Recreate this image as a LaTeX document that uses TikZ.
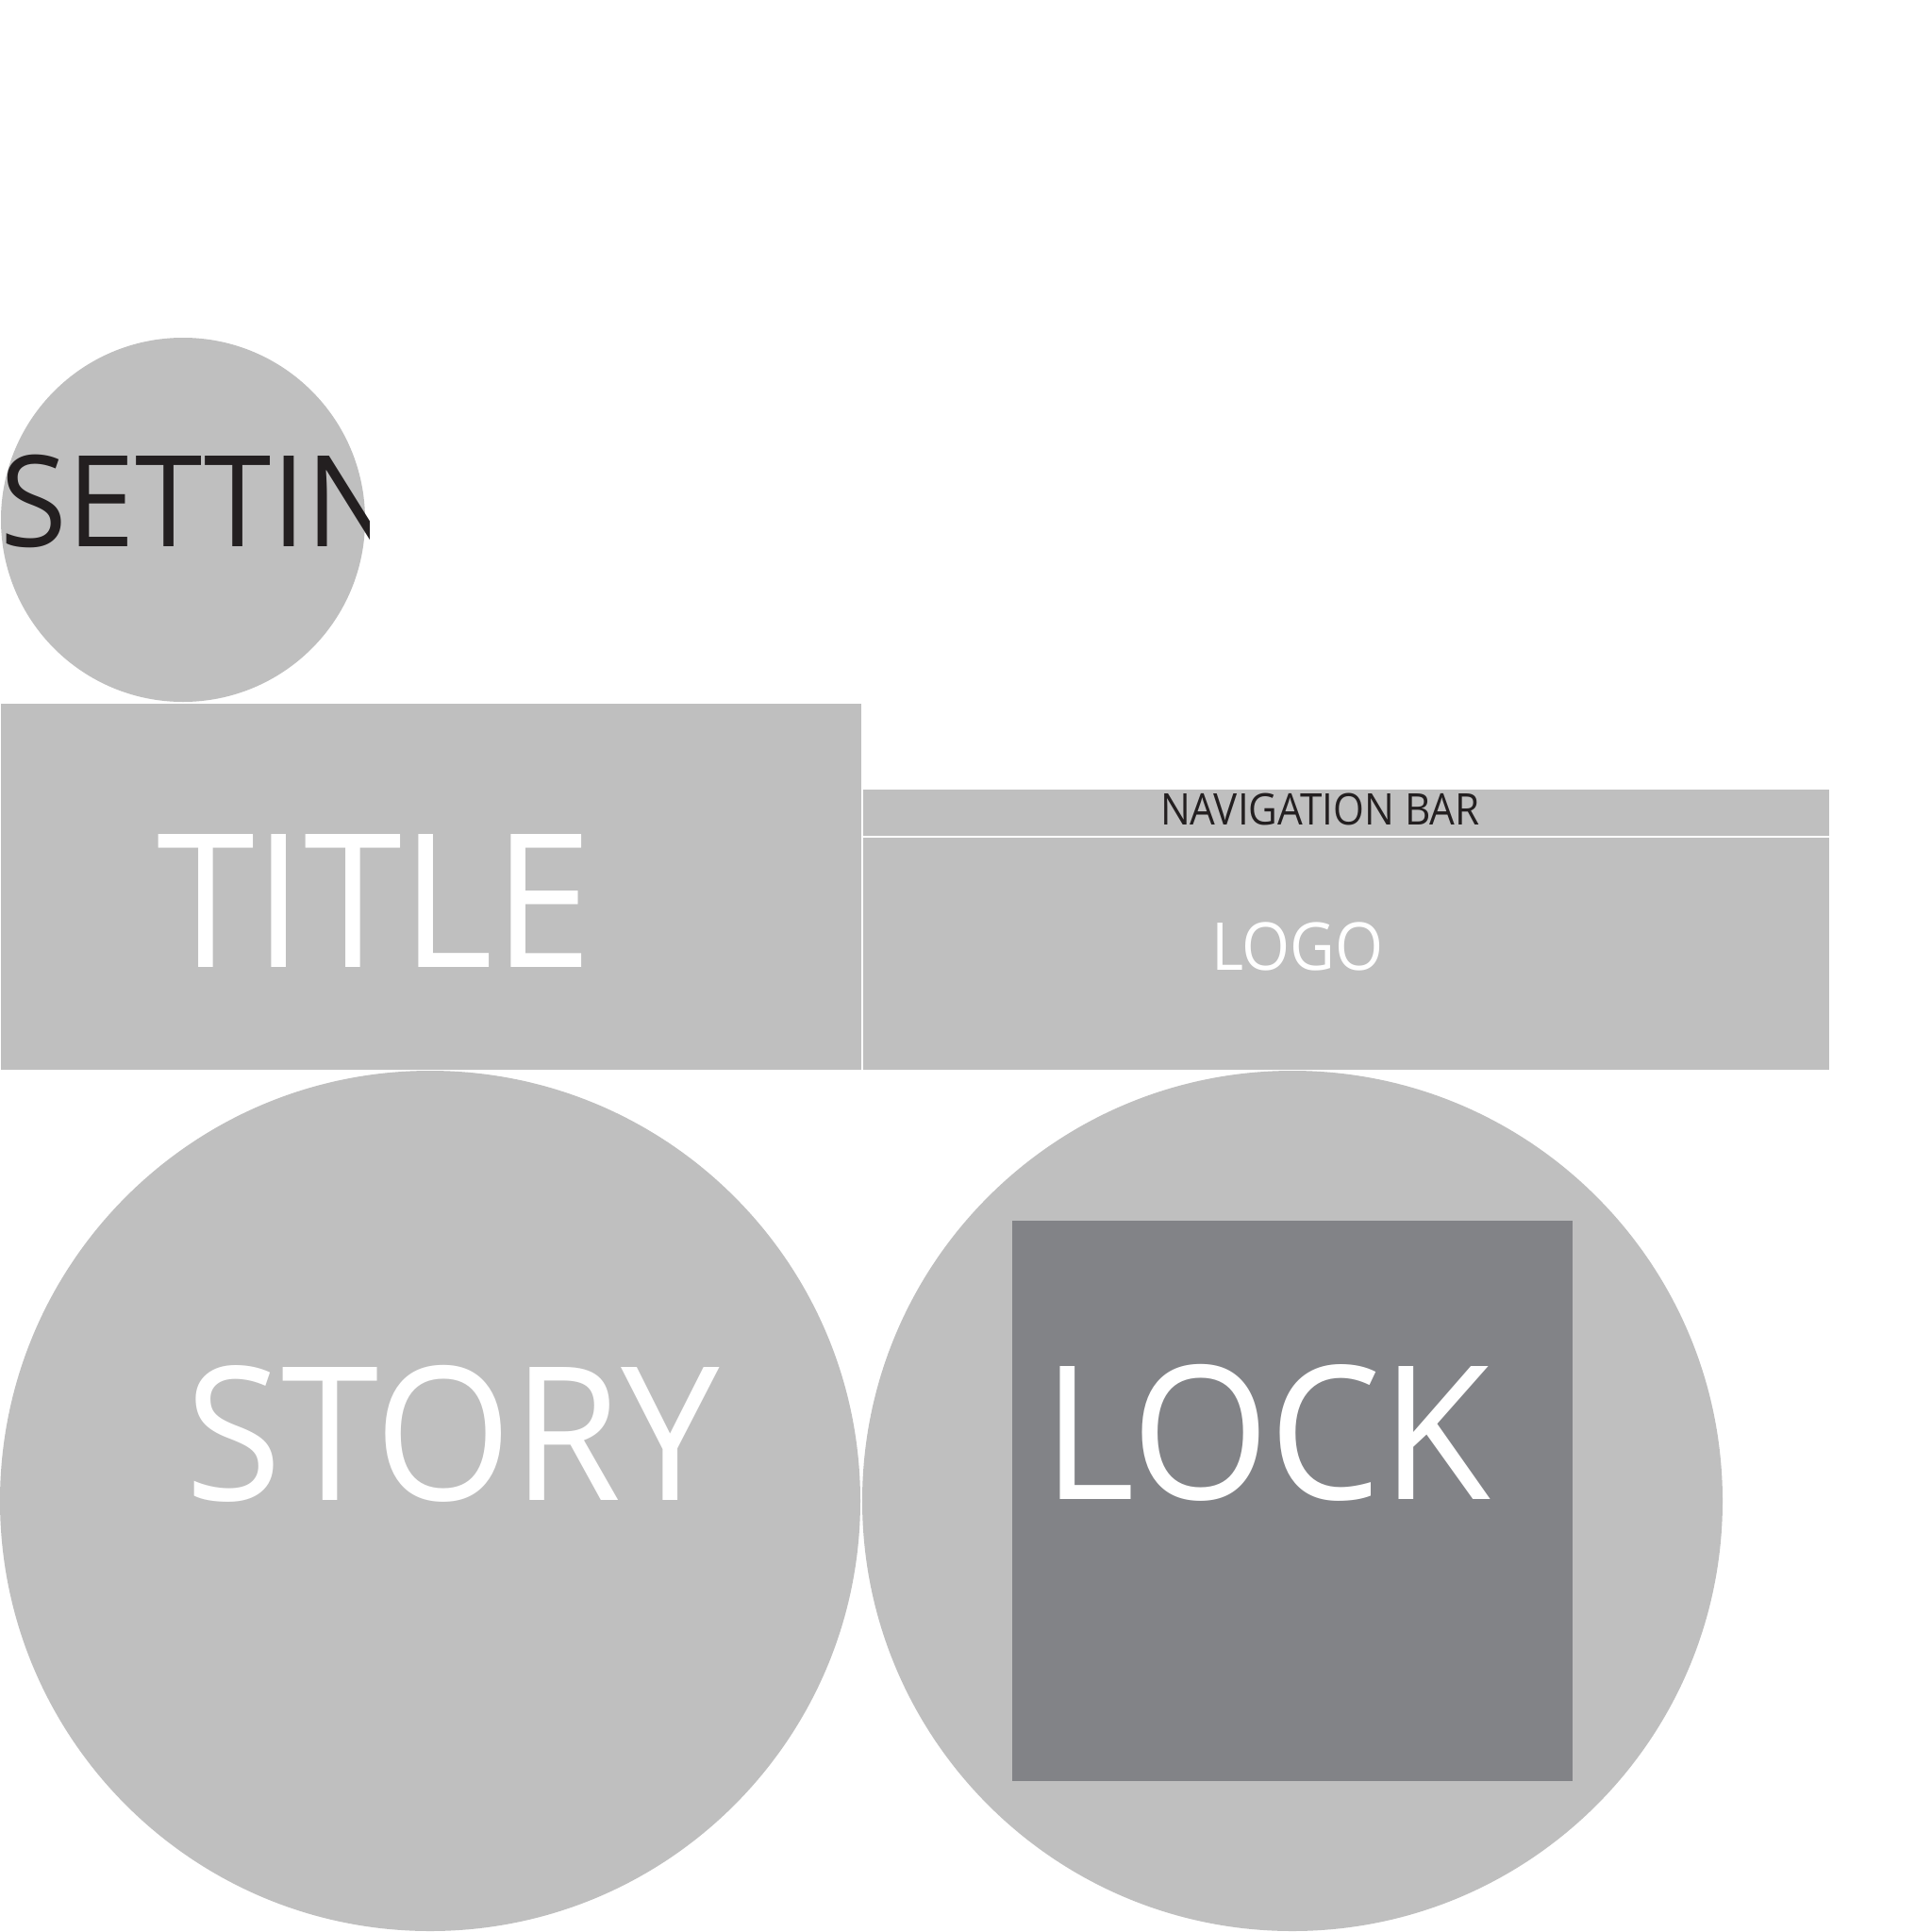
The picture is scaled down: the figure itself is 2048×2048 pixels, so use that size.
\documentclass[tikz,border=0pt]{standalone}
\usepackage{fontspec}
\setmainfont{Open Sans}
\definecolor{lightg}{RGB}{191,191,191}
\definecolor{darkg}{RGB}{130,131,135}
\definecolor{ink}{RGB}{35,31,32}
\tikzset{
  lbl/.style={inner sep=0pt, outer sep=0pt, anchor=base west},
}
\newcommand{\fs}[1]{\fontsize{#1pt}{#1pt}\selectfont}
\newcommand{\sx}[2]{\scalebox{#1}[1]{#2}}
\begin{document}
\begin{tikzpicture}[x=1pt,y=-1pt]
\useasboundingbox (0,0) rectangle (2048,2048);
\fill[white] (0,0) rectangle (2048,2048);
% shapes
\fill[lightg] (194,551) circle[radius=193];
\fill[lightg] (1,746) rectangle (913,1134);
\fill[lightg] (915,837) rectangle (1939,886);
\fill[lightg] (915,888) rectangle (1939,1134);
\fill[lightg] (456,1591) circle[radius=456];
\fill[lightg] (1370,1591) circle[radius=456];
\fill[darkg] (1073,1294) rectangle (1667,1888);
% texts
\begin{scope}
\clip (0,0) rectangle (391,2048);
\node[lbl, text=ink] (settings) at (1,579) {\fs{134.5}\sx{0.957}{SETTINGS}};
\end{scope}
\node[lbl, text=white] (title) at (166,1025) {\fs{197.5}\sx{0.95}{TITLE}};
\node[lbl, text=ink] (nav) at (1230,874) {\fs{46.2}\sx{0.914}{NAVIGATION BAR}};
\node[lbl, text=white] (logo) at (1284,1028) {\fs{70}\sx{0.937}{LOGO}};
\node[lbl, text=white] (story) at (196,1590) {\fs{197.5}\sx{0.945}{STORY}};
\node[lbl, text=white] (lock) at (1105,1589) {\fs{197.5}\sx{0.954}{LOCK}};
\end{tikzpicture}
\end{document}
